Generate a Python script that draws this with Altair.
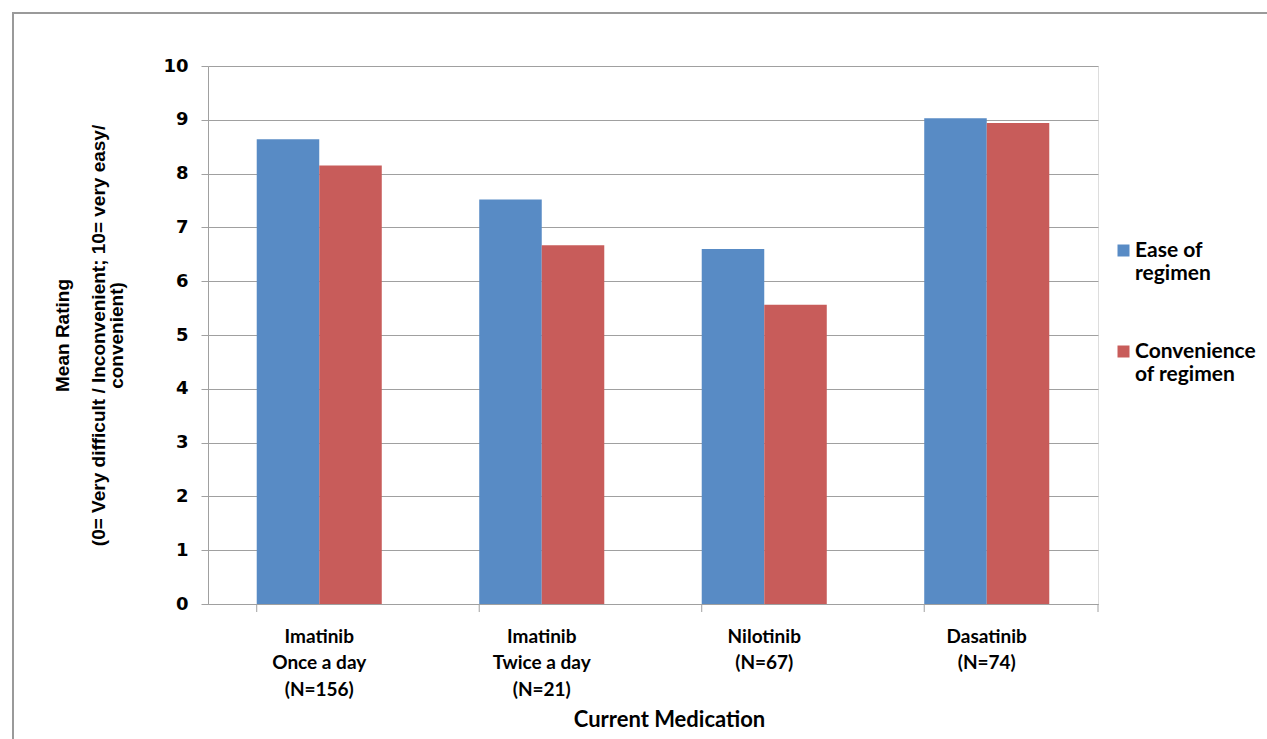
import altair as alt
import pandas as pd

# ---- data ----
categories = ["Imatinib|Once a day|(N=156)", "Imatinib|Twice a day|(N=21)",
              "Nilotinib|(N=67)", "Dasatinib|(N=74)"]
series = ["Ease of regimen", "Convenience of regimen"]
ease = [8.64, 7.52, 6.60, 9.03]
convenience = [8.15, 6.67, 5.56, 8.94]
colors = ["#588BC5", "#C85C5A"]
y_ticks = list(range(0, 11))

rows = []
for c, e, v in zip(categories, ease, convenience):
    rows.append({"cat": c, "series": series[0], "value": e})
    rows.append({"cat": c, "series": series[1], "value": v})
df = pd.DataFrame(rows)
cat_df = pd.DataFrame({"cat": categories})

W, H = 890, 538
GRAY = "#A0A0A0"

x_scale = alt.Scale(domain=categories, paddingInner=0.438, paddingOuter=0.219)
y_scale = alt.Scale(domain=[0, 10], nice=False)

bars = alt.Chart(df).mark_bar().encode(
    x=alt.X("cat:N", scale=x_scale, sort=categories,
            axis=alt.Axis(
                title="Current Medication",
                labelExpr="split(datum.label, '|')",
                labelAngle=0, labelLimit=0,
                labelFont="Lato", labelFontWeight="bold", labelFontSize=19,
                labelLineHeight=26.5, labelColor="black", labelPadding=23,
                ticks=False, domainColor=GRAY,
                titleFont="Lato", titleFontWeight="bold", titleFontSize=22,
                titleColor="black", titlePadding=10, titleX=W / 2 + 16)),
    xOffset=alt.XOffset("series:N", sort=series,
                        scale=alt.Scale(paddingInner=0, paddingOuter=0)),
    y=alt.Y("value:Q", scale=y_scale,
            axis=alt.Axis(
                values=y_ticks, grid=True, gridColor=GRAY, gridWidth=1,
                domainColor=GRAY, tickColor=GRAY, tickSize=7,
                labelFont="DejaVu Sans", labelFontWeight="bold", labelFontSize=18,
                labelColor="black", labelPadding=13,
                title=["Mean Rating", "\u200b",
                       "(0= Very difficult / Inconvenient; 10= very easy/",
                       "convenient)"],
                titleFont="Liberation Sans, Arial",
                titleFontWeight="bold", titleFontSize=19, titleLineHeight=18,
                titleColor="black", titleAngle=-90, titleBaseline="top",
                titleAlign="center", titleX=-155, titleY=H / 2)),
    color=alt.Color("series:N", sort=series,
                    scale=alt.Scale(domain=series, range=colors),
                    legend=alt.Legend(
                        title=None, orient="none", legendX=905, legendY=174,
                        symbolType="square", symbolSize=144, symbolStrokeWidth=0,
                        labelExpr="datum.label == 'Ease of regimen' ? ['Ease of', 'regimen'] : ['Convenience', 'of regimen']",
                        labelFont="Lato", labelFontWeight="bold", labelFontSize=21,
                        labelColor="black", labelLimit=0, labelBaseline="middle",
                        rowPadding=56, labelOffset=1)),
)

# category boundary tick marks below the x axis
ticks = alt.Chart(cat_df).mark_rule(color=GRAY, strokeWidth=1).encode(
    x=alt.X("cat:N", scale=x_scale, sort=categories, bandPosition=0),
    y=alt.value(H), y2=alt.value(H + 8),
)
end_tick = alt.Chart(cat_df.head(1)).mark_rule(color=GRAY, strokeWidth=1).encode(
    x=alt.value(W), y=alt.value(H), y2=alt.value(H + 8),
)

# outer frame of the picture
frame = alt.Chart(cat_df.head(1)).mark_rect(filled=False, stroke="#9A9A9A", strokeWidth=2).encode(
    x=alt.value(-195), x2=alt.value(1267 - 208 + 20),
    y=alt.value(-53), y2=alt.value(739 - 66 + 20),
)

chart = alt.layer(frame, bars, ticks, end_tick).properties(
    width=W, height=H,
    autosize=alt.AutoSizeParams(type="none"),
    padding={"left": 208, "top": 66, "right": 169, "bottom": 135},
).configure_view(stroke=None).configure(background="white")

chart.save("out.html", embed_options={"renderer": "svg", "actions": False})
